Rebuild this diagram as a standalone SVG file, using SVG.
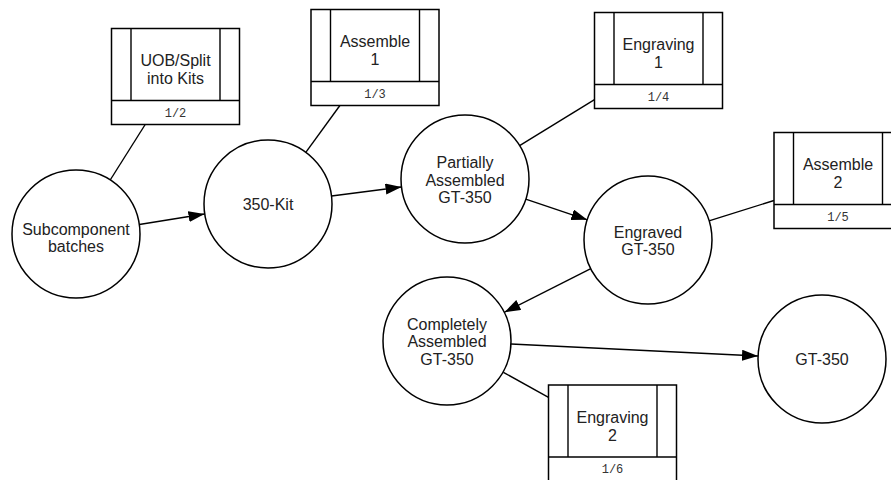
<svg xmlns="http://www.w3.org/2000/svg" width="891" height="480" viewBox="0 0 891 480">
<defs>
<marker id="arr" markerUnits="userSpaceOnUse" markerWidth="17" markerHeight="12" refX="16" refY="5.5" orient="auto">
<path d="M0,0 L16,5.5 L0,11 z" fill="#000"/>
</marker>
<style>
.bg{fill:#fff}
.c{fill:#fff;stroke:#000;stroke-width:1.5}
.b{fill:#fff;stroke:#000;stroke-width:1.5}
.e{stroke:#000;stroke-width:1.4;fill:none}
.t{font-family:"Liberation Sans",Arial,sans-serif;font-size:16px;fill:#222;text-anchor:middle}
.m{font-family:"Liberation Mono","Courier New",monospace;font-size:12px;fill:#333;text-anchor:middle}
</style>
</defs>
<rect class="bg" x="0" y="0" width="891" height="480"/>
<g id="connectors">
<line class="e" x1="139.3" y1="224.5" x2="204.5" y2="214" marker-end="url(#arr)"/>
<line class="e" x1="331.5" y1="196" x2="401.5" y2="187" marker-end="url(#arr)"/>
<line class="e" x1="525.7" y1="199.2" x2="587.3" y2="219.8" marker-end="url(#arr)"/>
<line class="e" x1="590.8" y1="268.7" x2="504.5" y2="312.2" marker-end="url(#arr)"/>
<line class="e" x1="511" y1="344" x2="758" y2="356" marker-end="url(#arr)"/>
<line class="e" x1="110.2" y1="180" x2="145.2" y2="124.5"/>
<line class="e" x1="305.8" y1="152.3" x2="339.9" y2="105.5"/>
<line class="e" x1="519.6" y1="145.6" x2="594.5" y2="99.7"/>
<line class="e" x1="709" y1="220.9" x2="774" y2="200.5"/>
<line class="e" x1="503.4" y1="372.3" x2="548.5" y2="397.4"/>
</g>
<g id="subcomponent">
<circle class="c" cx="76" cy="234" r="64"/>
<text class="t" x="76" y="235">Subcomponent</text>
<text class="t" x="76" y="252">batches</text>
</g>
<g id="kit350">
<circle class="c" cx="268" cy="204" r="64"/>
<text class="t" x="268" y="210">350-Kit</text>
</g>
<g id="partially">
<circle class="c" cx="465" cy="179" r="64"/>
<text class="t" x="465" y="168">Partially</text>
<text class="t" x="465" y="186">Assembled</text>
<text class="t" x="465" y="203">GT-350</text>
</g>
<g id="engraved">
<circle class="c" cx="648" cy="240" r="64"/>
<text class="t" x="648" y="238">Engraved</text>
<text class="t" x="648" y="255">GT-350</text>
</g>
<g id="completely">
<circle class="c" cx="447" cy="341" r="64"/>
<text class="t" x="447" y="330">Completely</text>
<text class="t" x="447" y="347">Assembled</text>
<text class="t" x="447" y="365">GT-350</text>
</g>
<g id="gt350">
<circle class="c" cx="822" cy="359" r="64"/>
<text class="t" x="822" y="365">GT-350</text>
</g>
<g id="uob">
<rect class="b" x="111.5" y="28.5" width="128" height="96"/>
<line class="e" x1="111.5" y1="100.5" x2="239.5" y2="100.5"/>
<line class="e" x1="131" y1="28.5" x2="131" y2="100.5"/>
<line class="e" x1="220" y1="28.5" x2="220" y2="100.5"/>
<text class="t" x="175.5" y="66">UOB/Split</text>
<text class="t" x="175.5" y="84">into Kits</text>
<text class="m" x="175.5" y="116.5">1/2</text>
</g>
<g id="assemble1">
<rect class="b" x="311" y="9.5" width="128" height="96"/>
<line class="e" x1="311" y1="81.5" x2="439" y2="81.5"/>
<line class="e" x1="330.5" y1="9.5" x2="330.5" y2="81.5"/>
<line class="e" x1="419.5" y1="9.5" x2="419.5" y2="81.5"/>
<text class="t" x="375" y="47">Assemble</text>
<text class="t" x="375" y="65">1</text>
<text class="m" x="375" y="97.5">1/3</text>
</g>
<g id="engraving1">
<rect class="b" x="594.5" y="12.5" width="128" height="96"/>
<line class="e" x1="594.5" y1="84.5" x2="722.5" y2="84.5"/>
<line class="e" x1="614" y1="12.5" x2="614" y2="84.5"/>
<line class="e" x1="703" y1="12.5" x2="703" y2="84.5"/>
<text class="t" x="658.5" y="50">Engraving</text>
<text class="t" x="658.5" y="68">1</text>
<text class="m" x="658.5" y="100.5">1/4</text>
</g>
<g id="assemble2">
<rect class="b" x="774" y="132.5" width="128" height="96"/>
<line class="e" x1="774" y1="204.5" x2="902" y2="204.5"/>
<line class="e" x1="793.5" y1="132.5" x2="793.5" y2="204.5"/>
<line class="e" x1="882.5" y1="132.5" x2="882.5" y2="204.5"/>
<text class="t" x="838" y="170">Assemble</text>
<text class="t" x="838" y="188">2</text>
<text class="m" x="838" y="220.5">1/5</text>
</g>
<g id="engraving2">
<rect class="b" x="548.5" y="385" width="128" height="96"/>
<line class="e" x1="548.5" y1="457" x2="676.5" y2="457"/>
<line class="e" x1="568" y1="385" x2="568" y2="457"/>
<line class="e" x1="657" y1="385" x2="657" y2="457"/>
<text class="t" x="612.5" y="422.5">Engraving</text>
<text class="t" x="612.5" y="440.5">2</text>
<text class="m" x="612.5" y="473">1/6</text>
</g>
</svg>
